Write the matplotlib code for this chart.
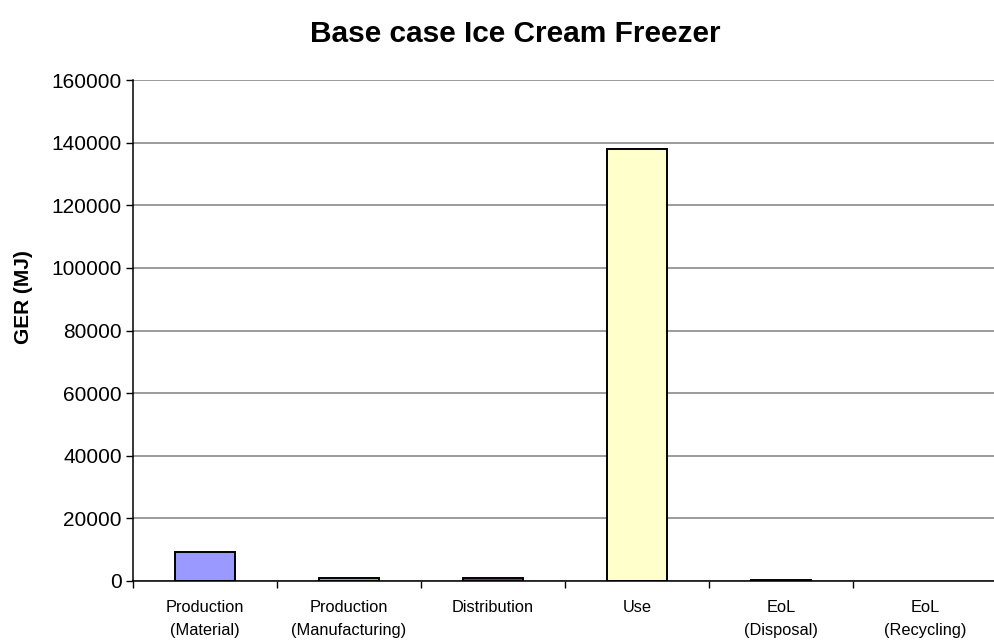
import matplotlib
matplotlib.use("Agg")
import matplotlib.pyplot as plt
import numpy as np

plt.rcParams['font.family'] = ['Liberation Sans', 'DejaVu Sans']

categories = ["Production\n(Material)", "Production\n(Manufacturing)", "Distribution",
              "Use", "EoL\n(Disposal)", "EoL\n(Recycling)"]
values = [9400, 1000, 900, 138000, 400, 0]
colors = ["#9999FF", "#9999FF", "#993366", "#FFFFCC", "#1a1a1a", "#CCFFFF"]
yticks = [0, 20000, 40000, 60000, 80000, 100000, 120000, 140000, 160000]

fig = plt.figure(figsize=(9.94, 6.42), dpi=100)
ax = fig.add_axes([133 / 994, 61 / 642, 864 / 994, 501 / 642])

x = np.arange(len(categories))
for xi, v, c in zip(x, values, colors):
    ax.bar(xi, v, width=0.41, color=c, edgecolor="black",
           linewidth=1.4 if v > 0 else 0, zorder=3)

ax.set_xlim(-0.5, len(categories) - 0.5)
ax.set_ylim(0, 160000)
ax.set_yticks(yticks)
ax.set_yticklabels([str(t) for t in yticks], fontsize=15)
ax.yaxis.grid(True, color="#808080", linewidth=1.1, zorder=0)
ax.set_axisbelow(True)

ax.set_xticks(x)
ax.set_xticklabels(categories, fontsize=11.8, linespacing=1.6)
ax.set_xticks(np.arange(len(categories) + 1) - 0.5, minor=True)
ax.tick_params(axis="x", which="major", length=0, pad=14)
ax.tick_params(axis="x", which="minor", length=5, width=1, direction="out")
ax.tick_params(axis="y", length=5, width=1, direction="out", pad=3)

for side in ("top", "right"):
    ax.spines[side].set_visible(False)
ax.spines["left"].set_linewidth(1.1)
ax.spines["bottom"].set_linewidth(1.1)

ax.set_ylabel("GER (MJ)", fontsize=15, fontweight="bold")
ax.yaxis.set_label_coords(-0.116, 0.567)
fig.text(515 / 994, 1 - 34 / 642, "Base case Ice Cream Freezer", ha="center", va="center",
         fontsize=21.5, fontweight="bold")

fig.savefig("out.png", dpi=100)
